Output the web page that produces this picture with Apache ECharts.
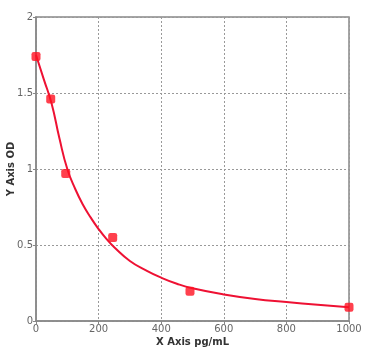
<!DOCTYPE html>
<html><head><meta charset="utf-8">
<script src="https://cdn.jsdelivr.net/npm/echarts@6/dist/echarts.min.js"></script>
<style>html,body{margin:0;padding:0;background:#fff}#c{width:380px;height:359px}</style>
</head><body><div id="c"></div>
<script>
const pointX = [0, 47, 95, 245, 492, 1000];
const pointY = [1.74, 1.46, 0.97, 0.55, 0.195, 0.09];
const curveX = [0, 25, 50, 75, 100, 125, 150, 175, 200, 225, 250, 300, 350, 400, 450, 500, 600, 700, 800, 900, 1000];
const curveY = [1.75, 1.59, 1.43, 1.20, 1.00, 0.87, 0.765, 0.68, 0.605, 0.54, 0.485, 0.395, 0.335, 0.285, 0.245, 0.215, 0.175, 0.145, 0.125, 0.107, 0.09];
const xTicks = [0, 200, 400, 600, 800, 1000];
const yTicks = [0, 0.5, 1, 1.5, 2];

const chart = echarts.init(document.getElementById('c'));
const lbl = {fontFamily:'DejaVu Sans', fontSize:10, color:'#666'};
chart.setOption({
  animation:false,
  backgroundColor:'#fff',
  grid:{left:36, right:31, top:17, bottom:38, containLabel:false, outerBoundsMode:'none',
    show:true, borderColor:'#888', borderWidth:1.5, backgroundColor:'transparent'},
  xAxis:{type:'value', min:xTicks[0], max:xTicks[xTicks.length-1], interval:200,
    name:'X Axis pg/mL', nameLocation:'middle', nameGap:16, nameMoveOverlap:false,
    nameTextStyle:{fontFamily:'DejaVu Sans', fontSize:10, fontWeight:'bold', color:'#333'},
    axisLine:{show:true, lineStyle:{color:'#888', width:1.5}},
    axisTick:{show:true, length:3, lineStyle:{color:'#888'}},
    axisLabel:Object.assign({margin:3, formatter:v=>xTicks.includes(v)?String(v):''}, lbl),
    splitLine:{show:true, lineStyle:{color:'#999', type:[2,2], width:1}}},
  yAxis:{type:'value', min:yTicks[0], max:yTicks[yTicks.length-1], interval:0.5,
    name:'Y Axis OD', nameLocation:'middle', nameGap:20, nameRotate:90, nameMoveOverlap:false,
    nameTextStyle:{fontFamily:'DejaVu Sans', fontSize:10, fontWeight:'bold', color:'#333'},
    axisLine:{show:true, lineStyle:{color:'#888', width:1.5}},
    axisTick:{show:true, length:3, lineStyle:{color:'#888'}},
    axisLabel:Object.assign({margin:3, formatter:v=>String(v)}, lbl),
    splitLine:{show:true, lineStyle:{color:'#999', type:[2,2], width:1}}},
  series:[
    {type:'line', data:curveX.map((x,i)=>[x,curveY[i]]), smooth:true, showSymbol:false,
     lineStyle:{color:'#ee1133', width:2}, z:2},
    {type:'scatter', data:pointX.map((x,i)=>[x,pointY[i]]), symbol:'roundRect', symbolSize:9,
     itemStyle:{color:'#ff1020'}, z:3}
  ]
});
</script></body></html>
